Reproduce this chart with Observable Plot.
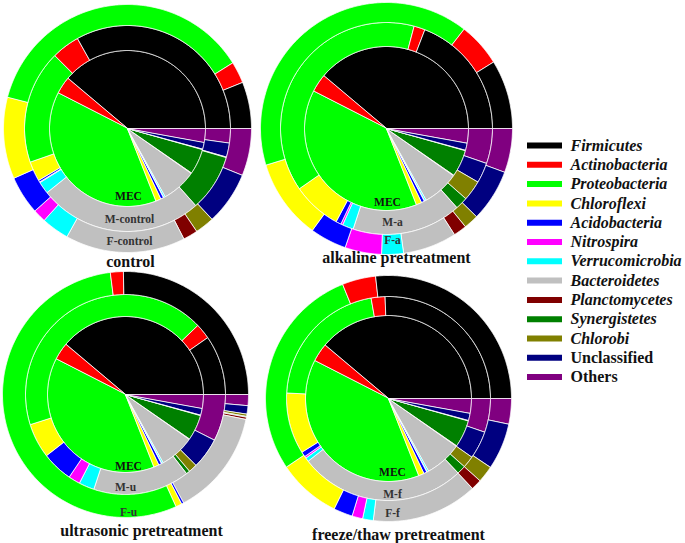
<!DOCTYPE html>
<html><head><meta charset="utf-8">
<script src="https://cdn.jsdelivr.net/npm/d3@7"></script>
<script src="https://cdn.jsdelivr.net/npm/@observablehq/plot@0.6"></script>
<style>body{margin:0;background:#fff}</style>
</head><body><div id="chart"></div>
<script>
// ---- data (relative abundance, %) ----
const phyla = ["Firmicutes","Actinobacteria","Proteobacteria","Chloroflexi","Acidobacteria","Nitrospira","Verrucomicrobia","Bacteroidetes","Planctomycetes","Synergistetes","Chlorobi","Unclassified","Others"];
const colors = ["#000000","#ff0000","#00ff00","#ffff00","#0000ff","#ff00ff","#00ffff","#c0c0c0","#800000","#008000","#808000","#000080","#800080"];

const MEC       = [38.9, 3.6, 38.5, 1.1, 0.6, 0.1, 0.3, 7.2, 0.1, 5.3, 0.1, 1.4, 2.8];
const M_control = [33.1, 4.4, 17.8, 3.1, 0.3, 0.1, 1.9, 25.8, 0.0, 8.9, 0.1, 2.2, 2.2];
const F_control = [6.1, 2.8, 37.0, 10.6, 5.0, 1.7, 3.6, 15.6, 1.9, 0.0, 2.5, 6.9, 6.1];
const M_a       = [19.2, 1.7, 38.9, 7.5, 0.8, 0.3, 1.7, 16.7, 0.0, 1.9, 3.1, 3.1, 5.3];
const F_a       = [8.9, 5.6, 40.3, 10.3, 4.7, 4.7, 2.8, 6.9, 1.7, 0.0, 1.9, 6.7, 5.6];
const M_u       = [9.7, 2.5, 42.8, 5.6, 5.0, 1.9, 2.5, 15.6, 0.0, 0.6, 1.4, 5.0, 7.5];
const F_u       = [25.3, 1.7, 54.7, 0.8, 0.3, 0.0, 0.0, 13.9, 0.3, 0.1, 0.3, 1.1, 1.4];
const M_f       = [25.6, 2.2, 21.4, 9.7, 0.8, 0.3, 0.6, 26.4, 0.0, 1.4, 1.9, 4.4, 5.3];
const F_f       = [26.7, 4.4, 28.3, 8.3, 2.5, 1.4, 1.4, 13.9, 1.4, 0.0, 2.2, 6.1, 3.3];

const treatments = ["control","alkaline pretreatment","ultrasonic pretreatment","freeze/thaw pretreatment"];
const ringLabels = [["MEC","M-control","F-control"],["MEC","M-a","F-a"],["MEC","M-u","F-u"],["MEC","M-f","F-f"]];
const ringData = [[MEC, M_control, F_control],[MEC, M_a, F_a],[MEC, M_u, F_u],[MEC, M_f, F_f]];

// ---- layout ----
const layout = [
  {cx:127, cy:128, r:[78,103,124], title:[130,261], labels:[[128,196],[129,219],[129,241]]},
  {cx:386, cy:128, r:[82,106,126], title:[396,257], labels:[[387,202],[392,222],[392,240]]},
  {cx:125, cy:394, r:[78,100,123], title:[141,530], labels:[[128,466],[125,487],[128,512]]},
  {cx:388, cy:398, r:[83,102,123], title:[398,534], labels:[[392,472],[392,494],[392,513]]}
];

const polys = [];
ringData.forEach((rings, p) => {
  const {cx, cy, r} = layout[p];
  rings.forEach((vals, k) => {
    const total = d3.sum(vals);
    const r0 = k === 0 ? 0 : r[k-1], r1 = r[k];
    let acc = 0;
    vals.forEach((v, i) => {
      if (v <= 0) return;
      const a0 = acc / total * 2 * Math.PI, a1 = (acc + v) / total * 2 * Math.PI;
      acc += v;
      const n = Math.max(2, Math.ceil((a1 - a0) / (Math.PI / 360)));
      const key = `${p}-${k}-${i}`, phylum = phyla[i];
      for (let j = 0; j <= n; j++) {
        const a = a0 + (a1 - a0) * j / n;
        polys.push({key, phylum, x: cx + r1 * Math.cos(a), y: cy - r1 * Math.sin(a)});
      }
      if (r0 === 0) polys.push({key, phylum, x: cx, y: cy});
      else for (let j = n; j >= 0; j--) {
        const a = a0 + (a1 - a0) * j / n;
        polys.push({key, phylum, x: cx + r0 * Math.cos(a), y: cy - r0 * Math.sin(a)});
      }
    });
  });
});

const titles = treatments.map((t, p) => ({text: t, x: layout[p].title[0], y: layout[p].title[1]}));
const labels = ringLabels.flatMap((ls, p) => ls.map((t, k) => ({text: t, k, x: layout[p].labels[k][0], y: layout[p].labels[k][1]})));
const legend = phyla.map((d, i) => ({phylum: d, i, y: 145 + i * 19.3, italic: i < 11}));
const serif = "'Liberation Serif', 'Times New Roman', serif";

const chart = Plot.plot({
  width: 685, height: 543, margin: 0,
  x: {domain: [0, 685], range: [0, 685], axis: null},
  y: {domain: [0, 543], range: [0, 543], axis: null},
  color: {domain: phyla, range: colors},
  style: {background: "white", fontFamily: serif},
  marks: [
    Plot.line(polys, {x: "x", y: "y", z: "key", fill: "phylum", stroke: "white", strokeWidth: 0.8, curve: "linear-closed"}),
    Plot.text(labels, {x: "x", y: "y", text: "text", fontSize: 11.5, fontWeight: "bold", fill: d => d.k === 0 ? "#111" : "#333", fontFamily: serif}),
    Plot.text(titles, {x: "x", y: "y", text: "text", fontSize: 16, fontWeight: "bold", fill: "#111", fontFamily: serif, letterSpacing: "0.6px"}),
    Plot.ruleY(legend, {y: "y", x1: 527, x2: 562, stroke: "phylum", strokeWidth: 6}),
    Plot.text(legend.filter(d => d.italic), {x: 570, y: "y", text: "phylum", textAnchor: "start", fontSize: 16, fontWeight: "bold", fontStyle: "italic", fill: "#111", fontFamily: serif}),
    Plot.text(legend.filter(d => !d.italic), {x: 570, y: "y", text: "phylum", textAnchor: "start", fontSize: 16, fontWeight: "bold", fill: "#111", fontFamily: serif})
  ]
});
document.getElementById("chart").appendChild(chart);
</script>
</body></html>
